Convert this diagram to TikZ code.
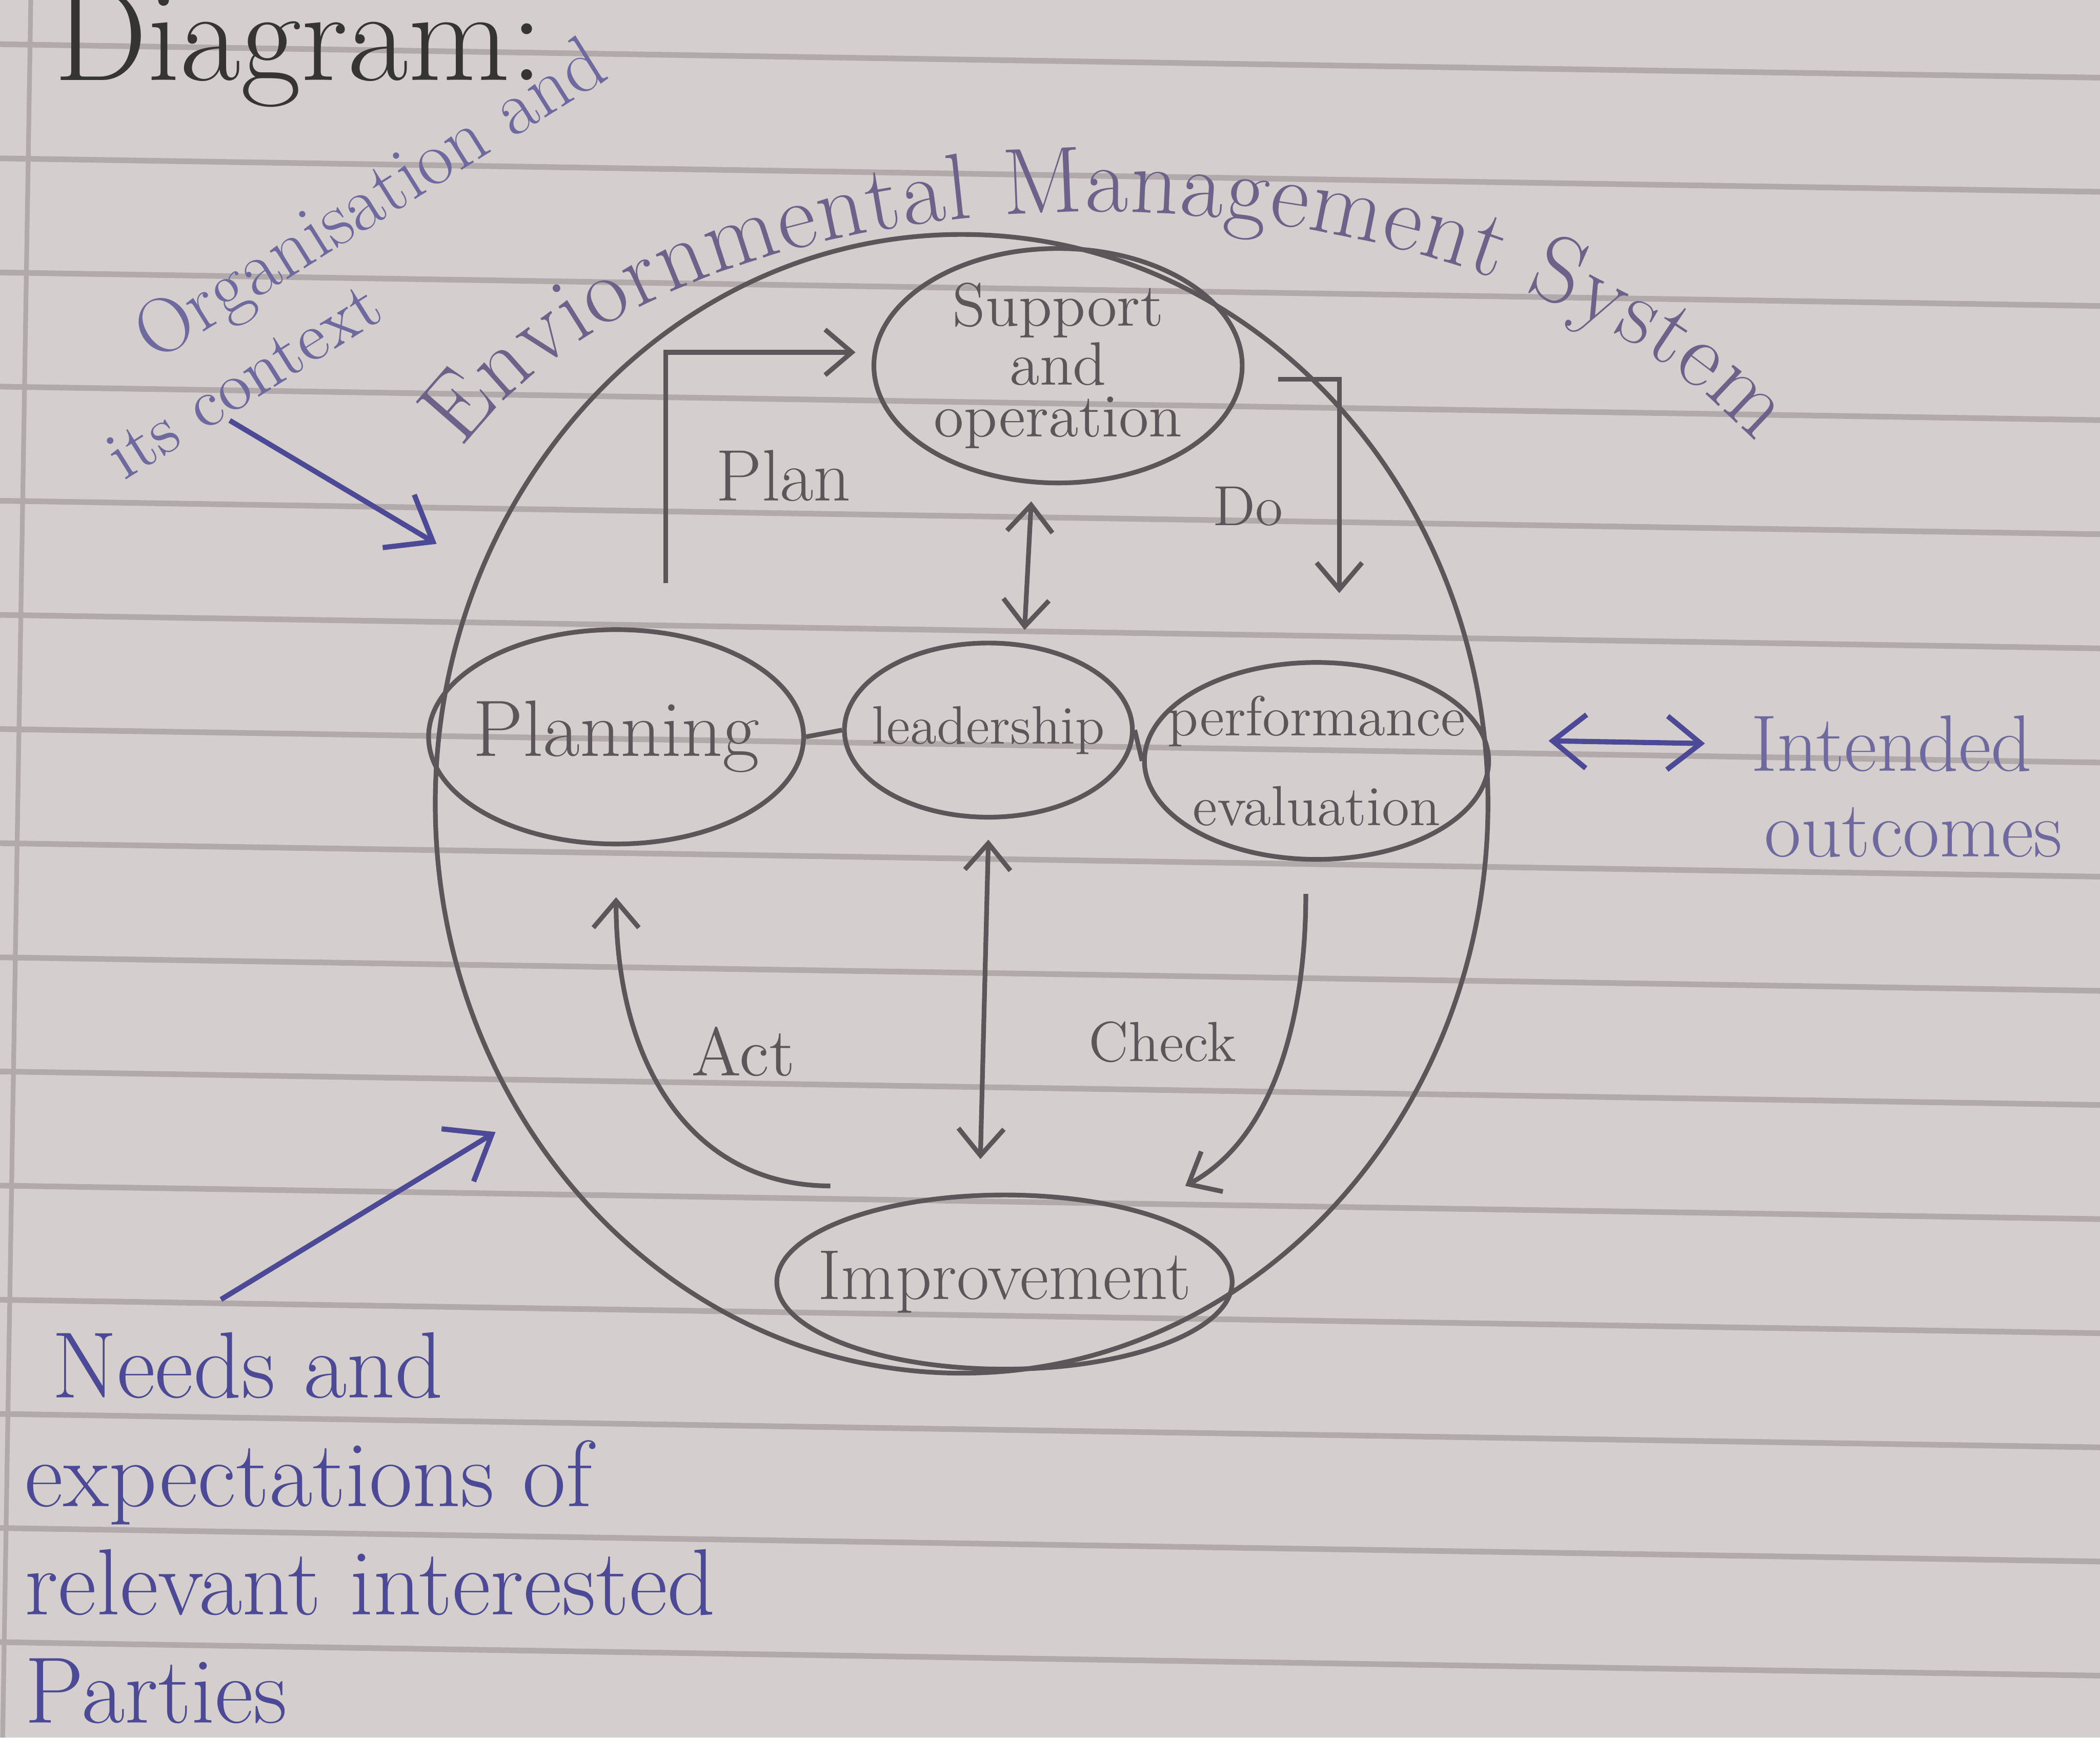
\documentclass[tikz,border=0pt]{standalone}
\usepackage{amsmath,amssymb}
\usepackage{tikz}
\usetikzlibrary{positioning,arrows.meta,calc,shapes.geometric,decorations.text}
\usepackage{xcolor}
\definecolor{paper}{RGB}{212,207,204}
\definecolor{ruling}{RGB}{178,170,170}
\definecolor{pencil}{RGB}{92,85,90}
\definecolor{ink}{RGB}{55,52,52}
\definecolor{bluepen}{RGB}{76,74,150}
\definecolor{fadedpen}{RGB}{110,106,160}
\definecolor{envpen}{RGB}{108,98,138}

\begin{document}
\begin{tikzpicture}[x=1cm,y=1cm,
  every node/.style={text=pencil},
  bubble/.style={draw=pencil, line width=1pt, ellipse, inner sep=0pt},
  link/.style={draw=pencil, line width=1pt, -{Straight Barb[length=2mm,width=3.4mm]}},
  twoway/.style={draw=pencil, line width=1pt, {Straight Barb[length=2mm,width=3.4mm]}-{Straight Barb[length=2mm,width=3.4mm]}},
  penlink/.style={draw=bluepen, line width=1.1pt, -{Straight Barb[length=3mm,width=4.6mm]}},
  penboth/.style={draw=bluepen, line width=1.1pt, {Straight Barb[length=2.5mm,width=4mm]}-{Straight Barb[length=2.5mm,width=4mm]}}]
\useasboundingbox (0,0) rectangle (15.68,-12.97);
\fill[paper] (0,0) rectangle (15.68,-12.97);
\foreach \k in {0,...,15}
  \draw[ruling, line width=1.2pt] (0,{-0.33-0.852*\k}) -- (15.68,{-0.58-0.852*\k});
\draw[ruling, line width=1pt] (0.23,0) -- (0.02,-12.97);

\node[anchor=base west, text=ink, font=\fontsize{28}{30}\selectfont] (title) at (0.28,-0.60) {Diagram:};

\node[ellipse, draw=pencil, line width=1pt, minimum width=7.86cm, minimum height=8.5cm] (ems) at (7.18,-6.00) {};
\path[decorate, decoration={text along path, text color=envpen, text align={fit to path},
  text={|\fontsize{20}{24}\selectfont|Enviornmental Management System}}]
  (3.45,-3.35) .. controls (5.20,-1.00) and (11.00,-1.00) .. (13.10,-3.30);

\node[bubble, minimum width=2.75cm, minimum height=1.75cm,
  label={[align=center, font=\fontsize{13}{11}\selectfont]center:Support\\and\\operation}] (sup) at (7.90,-2.73) {};
\node[bubble, minimum width=2.8cm, minimum height=1.6cm,
  label={[font=\fontsize{17}{20}\selectfont]center:Planning}] (plan) at (4.60,-5.50) {};
\node[bubble, minimum width=2.15cm, minimum height=1.3cm,
  label={[font=\fontsize{11.5}{13}\selectfont]center:leadership}] (lead) at (7.38,-5.45) {};
\node[bubble, minimum width=2.57cm, minimum height=1.47cm,
  label={[align=center, font=\fontsize{12}{19}\selectfont]center:performance\\evaluation}] (perf) at (9.83,-5.68) {};
\node[bubble, minimum width=3.4cm, minimum height=1.3cm,
  label={[font=\fontsize{15}{18}\selectfont]center:Improvement}] (impr) at (7.50,-9.57) {};

\node[font=\fontsize{15.5}{18}\selectfont] (plantxt) at (5.85,-3.55) {Plan};
\node[font=\fontsize{12}{14}\selectfont] (dotxt) at (9.32,-3.78) {Do};
\node[font=\fontsize{14.5}{17}\selectfont] (acttxt) at (5.55,-7.85) {Act};
\node[font=\fontsize{12}{14}\selectfont] (chktxt) at (8.68,-7.78) {Check};

\node[text=fadedpen, font=\fontsize{16.5}{19}\selectfont, rotate=32] (ctxa) at (2.78,-1.52) {Organisation and};
\node[text=fadedpen, font=\fontsize{14.5}{17}\selectfont, rotate=32] (ctxb) at (1.82,-2.84) {its context};
\node[text=bluepen, font=\fontsize{20}{23}\selectfont, align=left, anchor=north west, inner sep=0pt] (needs) at (0.18,-9.94)
  {\hspace*{0.2cm}Needs and\\expectations of\\relevant interested\\Parties};
\node[text=fadedpen, font=\fontsize{17}{20}\selectfont, anchor=west] (intd) at (12.95,-5.55) {Intended};
\node[text=fadedpen, font=\fontsize{17}{20}\selectfont, below right=0.02cm and 0.1cm of intd.south west] (outc) {outcomes};

\coordinate (ctxtip) at (3.26,-4.06);
\coordinate (needtip) at (3.70,-8.45);
\draw[penlink] ([xshift=-0.26cm,yshift=-0.05cm]ctxb.south) -- (ctxtip);
\draw[penlink] ([xshift=1.47cm,yshift=0.24cm]needs.north west) -- (needtip);
\draw[penboth] ([xshift=0.43cm,yshift=0.15cm]perf.east) -- ([xshift=-0.22cm]intd.west);

\draw[link] ([xshift=0.37cm,yshift=0.33cm]plan.north) |- ([xshift=-0.12cm,yshift=0.1cm]sup.west);
\draw[link] ([xshift=0.25cm,yshift=-0.1cm]sup.east) -| ([xshift=0.17cm,yshift=0.5cm]perf.north);
\draw[twoway] ([xshift=-0.2cm,yshift=-0.12cm]sup.south) -- ([xshift=0.27cm,yshift=0.08cm]lead.north);
\draw[twoway] ([yshift=-0.15cm]lead.south) -- ([xshift=-0.18cm,yshift=0.25cm]impr.north);
\draw[link] ([xshift=-0.08cm,yshift=-0.24cm]perf.south) .. controls +(0,-0.95) and +(0.65,0.35) .. ([xshift=1.35cm,yshift=0.05cm]impr.north);
\draw[link] ([xshift=-1.3cm,yshift=0.05cm]impr.north) .. controls +(-1.0,0) and +(0,-1.3) .. ([yshift=-0.38cm]plan.south);
\draw[draw=pencil, line width=1pt] (plan.east) -- (lead.west);
\draw[draw=pencil, line width=1pt] (lead.east) -- (perf.west);
\end{tikzpicture}
\end{document}
